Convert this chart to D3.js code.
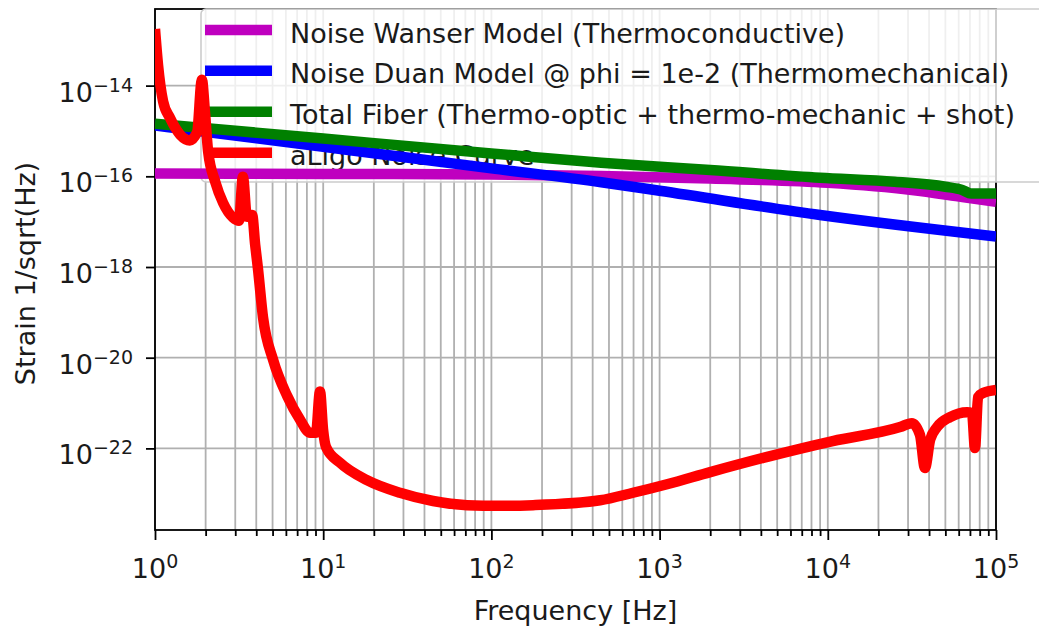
<!DOCTYPE html>
<html><head><meta charset="utf-8">
<script src="https://cdn.jsdelivr.net/npm/d3@7"></script>
<style>
body{margin:0;background:#fff;}
text{font-family:"DejaVu Sans",sans-serif;}
</style>
</head><body>
<svg id="chart" width="1039" height="628"></svg>
<script>
// ---------------- data ----------------
const xTickValues = [1, 10, 100, 1000, 10000, 100000];
const xTickExponents = ["0", "1", "2", "3", "4", "5"];
const yTickValues = [1e-14, 1e-16, 1e-18, 1e-20, 1e-22];
const yTickExponents = ["\u221214", "\u221216", "\u221218", "\u221220", "\u221222"];

const seriesNames = [
  "Noise Wanser Model (Thermoconductive)",
  "Noise Duan Model @ phi = 1e-2 (Thermomechanical)",
  "Total Fiber (Thermo-optic + thermo-mechanic + shot)",
  "aLigo Noise Curve"
];
const seriesColors = ["#bf00bf", "#0000ff", "#008000", "#ff0000"];

const wanserFreq = [1, 10, 100, 450, 2000, 10000, 31600, 63100, 100000];
const wanserVal  = [1.15e-16, 1.13e-16, 1.10e-16, 1.02e-16, 8.9e-17, 7.2e-17, 5.0e-17, 3.5e-17, 2.75e-17];

const duanFreq = [1, 10, 100, 450, 1000, 9000, 100000];
const duanVal  = [1.32e-15, 4.5e-16, 1.5e-16, 7.4e-17, 4.8e-17, 1.4e-17, 4.7e-18];

const fiberFreq = [1, 10, 100, 450, 2000, 9000, 25000, 50000, 63000, 71000, 100000];
const fiberVal  = [1.45e-15, 6.8e-16, 3.2e-16, 2.0e-16, 1.38e-16, 9.3e-17, 7.6e-17, 5.9e-17, 5.0e-17, 4.2e-17, 4.2e-17];

const aligoFreq = [1, 1.042, 1.117, 1.227, 1.41, 1.61, 1.78, 1.90, 1.98, 2.07, 2.28, 2.54, 2.91, 3.16,
  3.33, 3.52, 3.78, 3.94, 4.09, 4.39, 5.04, 6.10, 7.28, 8.36, 9.06, 9.57, 9.98, 10.4, 12.6, 18.2,
  28.6, 45, 71.6, 112, 177, 443, 695, 1107, 2000, 4365, 10700, 26900, 31600, 35300, 37800, 40600,
  44600, 53300, 67300, 72000, 75000, 78200, 83700, 100000];
const aligoVal = [1.78e-13, 2.9e-14, 4.5e-15, 1.95e-15, 8.3e-16, 6.2e-16, 9.5e-16, 1.35e-14, 2.7e-15,
  3.5e-16, 7.6e-17, 2.6e-17, 1.23e-17, 1.05e-17, 9.8e-17, 1.29e-17, 1.41e-17, 3.1e-18, 9.5e-19,
  7.6e-20, 8.9e-21, 1.45e-21, 4.3e-22, 2.2e-22, 2.2e-22, 1.8e-21, 2.6e-22, 1.07e-22, 4.8e-23,
  2.0e-23, 1.05e-23, 6.9e-24, 5.6e-24, 5.4e-24, 5.6e-24, 7.2e-24, 1.05e-23, 1.62e-23, 3.0e-23,
  6.5e-23, 1.45e-22, 2.95e-22, 3.6e-22, 2.0e-22, 3.7e-23, 1.55e-22, 2.95e-22, 4.9e-22, 6.3e-22,
  6.0e-22, 1.02e-22, 1.35e-21, 1.66e-21, 1.95e-21];

const xLabel = "Frequency [Hz]";
const yLabel = "Strain 1/sqrt(Hz)";

// ---------------- layout ----------------
const L = 155, R = 996, T = 9, B = 530;
const svg = d3.select("#chart");
const x = d3.scaleLog().domain([1, 1e5]).range([L, R]);
const y = d3.scaleLog().domain([Math.pow(10, -12.31), Math.pow(10, -23.80)]).range([T, B]);

const gridColor = "#b0b0b0";
const textColor = "#1a1a1a";

// grid lines
const xMinor = [];
for (let d = 0; d < 5; d++) for (let m = 1; m <= 9; m++) xMinor.push(m * Math.pow(10, d));
xMinor.push(1e5);
svg.append("g").selectAll("line").data(xMinor).join("line")
  .attr("x1", d => x(d)).attr("x2", d => x(d)).attr("y1", T).attr("y2", B)
  .attr("stroke", gridColor).attr("stroke-width", 1.8);
svg.append("g").selectAll("line").data(yTickValues).join("line")
  .attr("x1", L).attr("x2", R).attr("y1", d => y(d)).attr("y2", d => y(d))
  .attr("stroke", gridColor).attr("stroke-width", 1.8);

// axes via d3 axes (ticks only), labels drawn manually for superscripts
const xAxisMajor = d3.axisBottom(x).tickValues(xTickValues).tickSize(10).tickFormat("");
const xAxisMinor = d3.axisBottom(x).tickValues(xMinor.filter(v => !xTickValues.includes(v))).tickSize(6).tickFormat("");
const yAxis = d3.axisLeft(y).tickValues(yTickValues).tickSize(9).tickFormat("");
[xAxisMajor, xAxisMinor].forEach(ax => {
  const g = svg.append("g").attr("transform", `translate(0,${B})`).call(ax);
  g.select(".domain").remove();
  g.selectAll("line").attr("stroke", "#000").attr("stroke-width", 1.8);
});
const gy = svg.append("g").attr("transform", `translate(${L},0)`).call(yAxis);
gy.select(".domain").remove();
gy.selectAll("line").attr("stroke", "#000").attr("stroke-width", 1.8);

// spines
svg.append("rect").attr("x", L).attr("y", T).attr("width", R - L).attr("height", B - T)
  .attr("fill", "none").attr("stroke", "#000").attr("stroke-width", 1.8);

// tick labels
const xt = svg.append("g").selectAll("text").data(xTickValues).join("text")
  .attr("x", d => x(d)).attr("y", 578).attr("text-anchor", "middle")
  .attr("font-size", 27).attr("fill", textColor);
xt.append("tspan").text("10");
xt.append("tspan").attr("dy", -10).attr("font-size", 19).text((d, i) => xTickExponents[i]);

const yt = svg.append("g").selectAll("text").data(yTickValues).join("text")
  .attr("x", 133).attr("y", d => y(d) + 16).attr("text-anchor", "end")
  .attr("font-size", 27).attr("fill", textColor);
yt.append("tspan").text("10");
yt.append("tspan").attr("dy", -10).attr("font-size", 19).text((d, i) => yTickExponents[i]);

// axis labels
svg.append("text").attr("x", (L + R) / 2).attr("y", 620).attr("text-anchor", "middle")
  .attr("font-size", 27).attr("fill", textColor).text(xLabel);
svg.append("text").attr("transform", `translate(35,${(T + B) / 2 + 4}) rotate(-90)`)
  .attr("text-anchor", "middle").attr("font-size", 27).attr("fill", textColor).text(yLabel);

// legend (drawn beneath the data lines, as in the reference)
const leg = svg.append("g");
leg.append("rect").attr("x", 201).attr("y", 9).attr("width", 850).attr("height", 173)
  .attr("rx", 5).attr("fill", "#fff").attr("fill-opacity", 0.8)
  .attr("stroke", "#cccccc").attr("stroke-width", 1.6);
const rowY = [30, 70.7, 111.7, 152.7];
seriesNames.forEach((name, i) => {
  leg.append("line").attr("x1", 205).attr("x2", 272).attr("y1", rowY[i]).attr("y2", rowY[i])
    .attr("stroke", seriesColors[i]).attr("stroke-width", 10.5);
  leg.append("text").attr("x", 290).attr("y", rowY[i] + 12.5).attr("font-size", 27)
    .attr("fill", textColor).text(name);
});

// data lines
svg.append("clipPath").attr("id", "plotclip").append("rect")
  .attr("x", L).attr("y", T).attr("width", R - L).attr("height", B - T);
const line = d3.line().x(d => x(d[0])).y(d => y(d[1])).curve(d3.curveMonotoneX);
const series = [
  d3.zip(wanserFreq, wanserVal),
  d3.zip(duanFreq, duanVal),
  d3.zip(fiberFreq, fiberVal),
  d3.zip(aligoFreq, aligoVal)
];
const lg = svg.append("g").attr("clip-path", "url(#plotclip)");
series.forEach((s, i) => {
  lg.append("path").attr("d", line(s)).attr("fill", "none")
    .attr("stroke", seriesColors[i]).attr("stroke-width", 10.5)
    .attr("stroke-linejoin", "round").attr("stroke-linecap", "butt");
});
</script>
</body></html>
